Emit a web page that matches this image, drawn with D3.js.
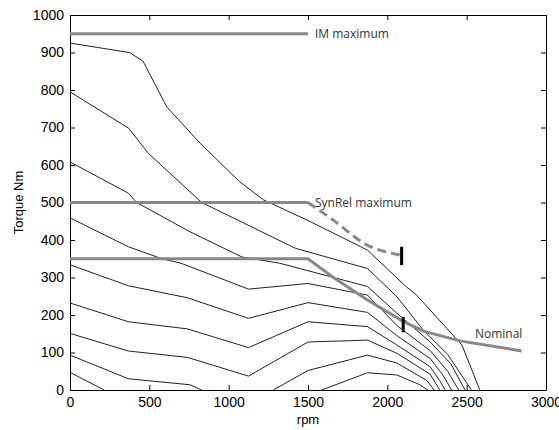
<!DOCTYPE html>
<html>
<head>
<meta charset="utf-8">
<script src="https://cdn.jsdelivr.net/npm/d3@7"></script>
<style>
body {margin: 0; background: #fff;}
</style>
</head>
<body>
<div id="chart"></div>
<script>
(function () {

// torque curves, [rpm, Nm]
// null = the curve dips under 0 there
const curve1 = [[0,925],[375,900],[460,877],[610,755],[820,658],[1070,555],[1220,507],[1500,452],[1875,373],[2120,275],[2180,255],[2470,120],[2583,0]];
const curve2 = [[0,795],[370,698],[494,631],[830,500],[1420,378],[1875,324],[2060,249],[2226,160],[2380,95],[2530,0]];
const curve3 = [[0,608],[368,525],[420,500],[756,422],[1082,355],[1323,338],[1875,276],[2060,205],[2270,128],[2400,70],[2490,0]];
const curve4 = [[0,459],[368,382],[580,350],[700,338],[1125,269],[1500,284],[1875,253],[2060,172],[2270,105],[2380,50],[2450,0]];
const curve5 = [[0,334],[368,278],[740,246],[1125,191],[1500,233],[1875,207],[2060,145],[2270,84],[2350,40],[2405,0]];
const curve6 = [[0,232],[368,182],[740,163],[1125,113],[1500,182],[1875,169],[2060,120],[2270,62],[2330,25],[2365,0]];
const curve7 = [[0,151],[368,104],[740,87],[1125,37],[1500,128],[1875,133],[2060,98],[2270,42],[2330,0]];
const curve8 = [[0,93],[368,30],[756,14],[830,0],null,[1281,0],[1500,52],[1875,93],[2060,72],[2250,25],[2295,0]];
const curve9 = [[0,47],[215,0],null,[1586,0],[1875,46],[2060,40],[2200,15],[2256,0]];

// the grey limit lines
const imMax = [[0,950],[1500,950]];
const synrelMax = [[0,500],[1500,500]];
const synrelExt = [[1500,500],[1660,453],[1870,387],[2080,360]];
const nominal = [[0,350],[1500,350],[1660,300],[1875,240],[2100,183],[2226,157],[2457,131],[2846,104]];

// black bars: rpm, from Nm, to Nm
const markers = [[2090,333,382],[2100,154,195]];

const labels = ["IM maximum", "SynRel maximum", "Nominal"];
const xTicks = [0,500,1000,1500,2000,2500,3000];
const yTicks = [0,100,200,300,400,500,600,700,800,900,1000];

const margin = {top: 15, right: 13, bottom: 40, left: 70};
const width = 559 - margin.left - margin.right,
   height = 430 - margin.top - margin.bottom;

const svg = d3.select("#chart").append("svg")
    .attr("width", width + margin.left + margin.right)
    .attr("height", height + margin.top + margin.bottom)
  .append("g")
    .attr("transform", "translate(" + margin.left + "," + margin.top + ")");

const x = d3.scaleLinear().domain([0, 3000]).range([0, width]);
const y = d3.scaleLinear().domain([0, 1000]).range([height, 0]);

// axes, matlab style box with ticks pointing in
const bottom = svg.append("g")
    .attr("transform", "translate(0," + height + ")")
    .call(d3.axisBottom(x).tickValues(xTicks).tickFormat(d3.format("d"))
      .tickSizeInner(-5).tickSizeOuter(0).tickPadding(7));
const left = svg.append("g")
    .call(d3.axisLeft(y).tickValues(yTicks).tickFormat(d3.format("d"))
      .tickSizeInner(-5).tickSizeOuter(0).tickPadding(6));
svg.append("g")
    .call(d3.axisTop(x).tickValues(xTicks).tickFormat("").tickSizeInner(-5).tickSizeOuter(0));
svg.append("g")
    .attr("transform", "translate(" + width + ",0)")
    .call(d3.axisRight(y).tickValues(yTicks).tickFormat("").tickSizeInner(-5).tickSizeOuter(0));

svg.selectAll(".domain, .tick line").attr("stroke", "#000");
[bottom, left].forEach(g => g.selectAll("text")
    .attr("font-family", "'Liberation Sans', Arial, sans-serif")
    .attr("font-size", 14)
    .attr("fill", "#000"));

// axis titles
svg.append("text")
    .attr("x", width / 2).attr("y", height + 34)
    .attr("text-anchor", "middle")
    .attr("font-family", "'Liberation Sans', Arial, sans-serif")
    .attr("font-size", 13)
    .text("rpm");
svg.append("text")
    .attr("transform", "translate(" + (22.5 - margin.left) + "," + (height / 2) + ") rotate(-90)")
    .attr("text-anchor", "middle")
    .attr("font-family", "'Liberation Sans', Arial, sans-serif")
    .attr("font-size", 13)
    .text("Torque Nm");

const line = d3.line()
    .defined(d => d)
    .x(d => x(d[0]))
    .y(d => y(d[1]));

// thin family of curves
const curves = [curve1, curve2, curve3, curve4, curve5, curve6, curve7, curve8, curve9];
svg.selectAll("path.curve")
  .data(curves)
  .join("path")
    .attr("class", "curve")
    .attr("d", line)
    .attr("fill", "none")
    .attr("stroke", "#222")
    .attr("stroke-width", 1);

// grey limits on top
svg.selectAll("path.limit")
  .data([imMax, synrelMax, nominal])
  .join("path")
    .attr("class", "limit")
    .attr("d", d3.line().x(d => x(d[0])).y(d => y(d[1])))
    .attr("fill", "none")
    .attr("stroke", "#888")
    .attr("stroke-width", 3);

svg.append("path")
    .attr("d", d3.line().x(d => x(d[0])).y(d => y(d[1])).curve(d3.curveMonotoneX)(synrelExt))
    .attr("fill", "none")
    .attr("stroke", "#888")
    .attr("stroke-width", 3)
    .attr("stroke-dasharray", "9,5");

svg.selectAll("line.marker")
  .data(markers)
  .join("line")
    .attr("class", "marker")
    .attr("x1", d => x(d[0])).attr("x2", d => x(d[0]))
    .attr("y1", d => y(d[1])).attr("y2", d => y(d[2]))
    .attr("stroke", "#000")
    .attr("stroke-width", 3);

// labels next to the grey lines
const labelPos = [
  [x(imMax[1][0]) + 7, y(imMax[1][1])],
  [x(synrelMax[1][0]) + 7, y(synrelMax[1][1])],
  [x(2552), y(151)]
];
svg.selectAll("text.lbl")
  .data(labels)
  .join("text")
    .attr("class", "lbl")
    .attr("x", (d, i) => labelPos[i][0])
    .attr("y", (d, i) => labelPos[i][1])
    .attr("dy", "0.35em")
    .attr("font-family", "'Open Sans', sans-serif")
    .attr("font-size", 12)
    .attr("fill", "#333")
    .text(d => d);

})()
</script>
</body>
</html>
